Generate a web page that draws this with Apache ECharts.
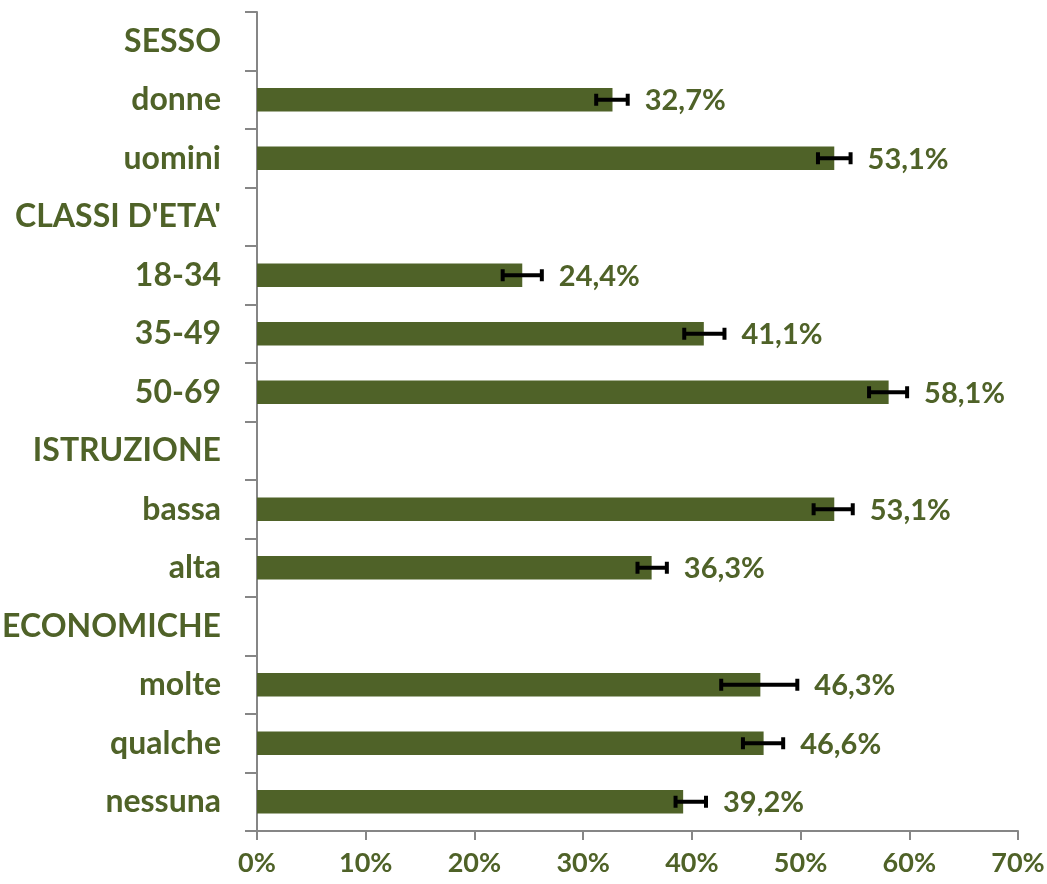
<!DOCTYPE html>
<html>
<head>
<meta charset="utf-8">
<script src="https://cdn.jsdelivr.net/npm/echarts@6/dist/echarts.min.js"></script>
<style>
  html, body { margin: 0; padding: 0; background: #fff; }
  #chart { width: 1047px; height: 884px; }
</style>
</head>
<body>
<div id="chart"></div>
<script>
const categories = ['SESSO', 'donne', 'uomini', "CLASSI D'ETA'", '18-34', '35-49', '50-69',
  'ISTRUZIONE', 'bassa', 'alta', 'ECONOMICHE', 'molte', 'qualche', 'nessuna']
const values = [null, 32.7, 53.1, null, 24.4, 41.1, 58.1, null, 53.1, 36.3, null, 46.3, 46.6, 39.2]
const errLow = [null, 31.2, 51.6, null, 22.6, 39.3, 56.3, null, 51.2, 35.0, null, 42.7, 44.7, 38.5]
const errHigh = [null, 34.1, 54.6, null, 26.2, 43.0, 59.8, null, 54.8, 37.7, null, 49.7, 48.4, 41.3]
const xTicks = [0, 10, 20, 30, 40, 50, 60, 70]

const green = '#4F6228'
const font = 'Lato, "Open Sans", sans-serif'

const errData = []
values.forEach(function (v, i) {
  if (v !== null) errData.push([i, errLow[i], errHigh[i], v])
})

function renderErr(params, api) {
  const yi = api.value(0)
  const lo = api.coord([api.value(1), yi])
  const hi = api.coord([api.value(2), yi])
  const cap = 6
  const lineStyle = { stroke: '#000', lineWidth: 4 }
  return {
    type: 'group',
    children: [
      { type: 'line', shape: { x1: lo[0], y1: lo[1], x2: hi[0], y2: hi[1] }, style: lineStyle },
      { type: 'line', shape: { x1: lo[0], y1: lo[1] - cap, x2: lo[0], y2: lo[1] + cap }, style: lineStyle },
      { type: 'line', shape: { x1: hi[0], y1: hi[1] - cap, x2: hi[0], y2: hi[1] + cap }, style: lineStyle },
      {
        type: 'text',
        style: {
          x: hi[0] + 17,
          y: hi[1] + 1,
          text: api.value(3).toFixed(1).replace('.', ',') + '%',
          fill: green,
          fontSize: 29,
          fontWeight: 'bold',
          fontFamily: font,
          align: 'left',
          verticalAlign: 'middle'
        }
      }
    ]
  }
}

const chart = echarts.init(document.getElementById('chart'))
chart.setOption({
  backgroundColor: '#fff',
  animation: false,
  grid: { left: 257, right: 29, top: 12, bottom: 53, outerBoundsMode: 'none', containLabel: false },
  xAxis: {
    type: 'value',
    min: xTicks[0],
    max: xTicks[xTicks.length - 1],
    interval: 10,
    axisLine: { show: true, lineStyle: { color: '#868686', width: 2 } },
    axisTick: { show: true, length: 9, lineStyle: { color: '#868686', width: 2 } },
    splitLine: { show: false },
    axisLabel: {
      color: green,
      fontSize: 27,
      fontWeight: 'bold',
      fontFamily: font,
      margin: 19,
      formatter: '{value}%'
    }
  },
  yAxis: {
    type: 'category',
    inverse: true,
    data: categories,
    axisLine: { show: true, lineStyle: { color: '#868686', width: 2 } },
    axisTick: { show: true, length: 12, lineStyle: { color: '#868686', width: 2 } },
    axisLabel: {
      color: green,
      fontSize: 32,
      fontWeight: 'bold',
      fontFamily: font,
      margin: 36
    }
  },
  series: [
    {
      type: 'bar',
      data: values,
      barWidth: '40%',
      itemStyle: { color: green },
      z: 2
    },
    {
      type: 'custom',
      data: errData,
      encode: { x: [1, 2], y: 0 },
      renderItem: renderErr,
      z: 3
    }
  ]
})
</script>
</body>
</html>
